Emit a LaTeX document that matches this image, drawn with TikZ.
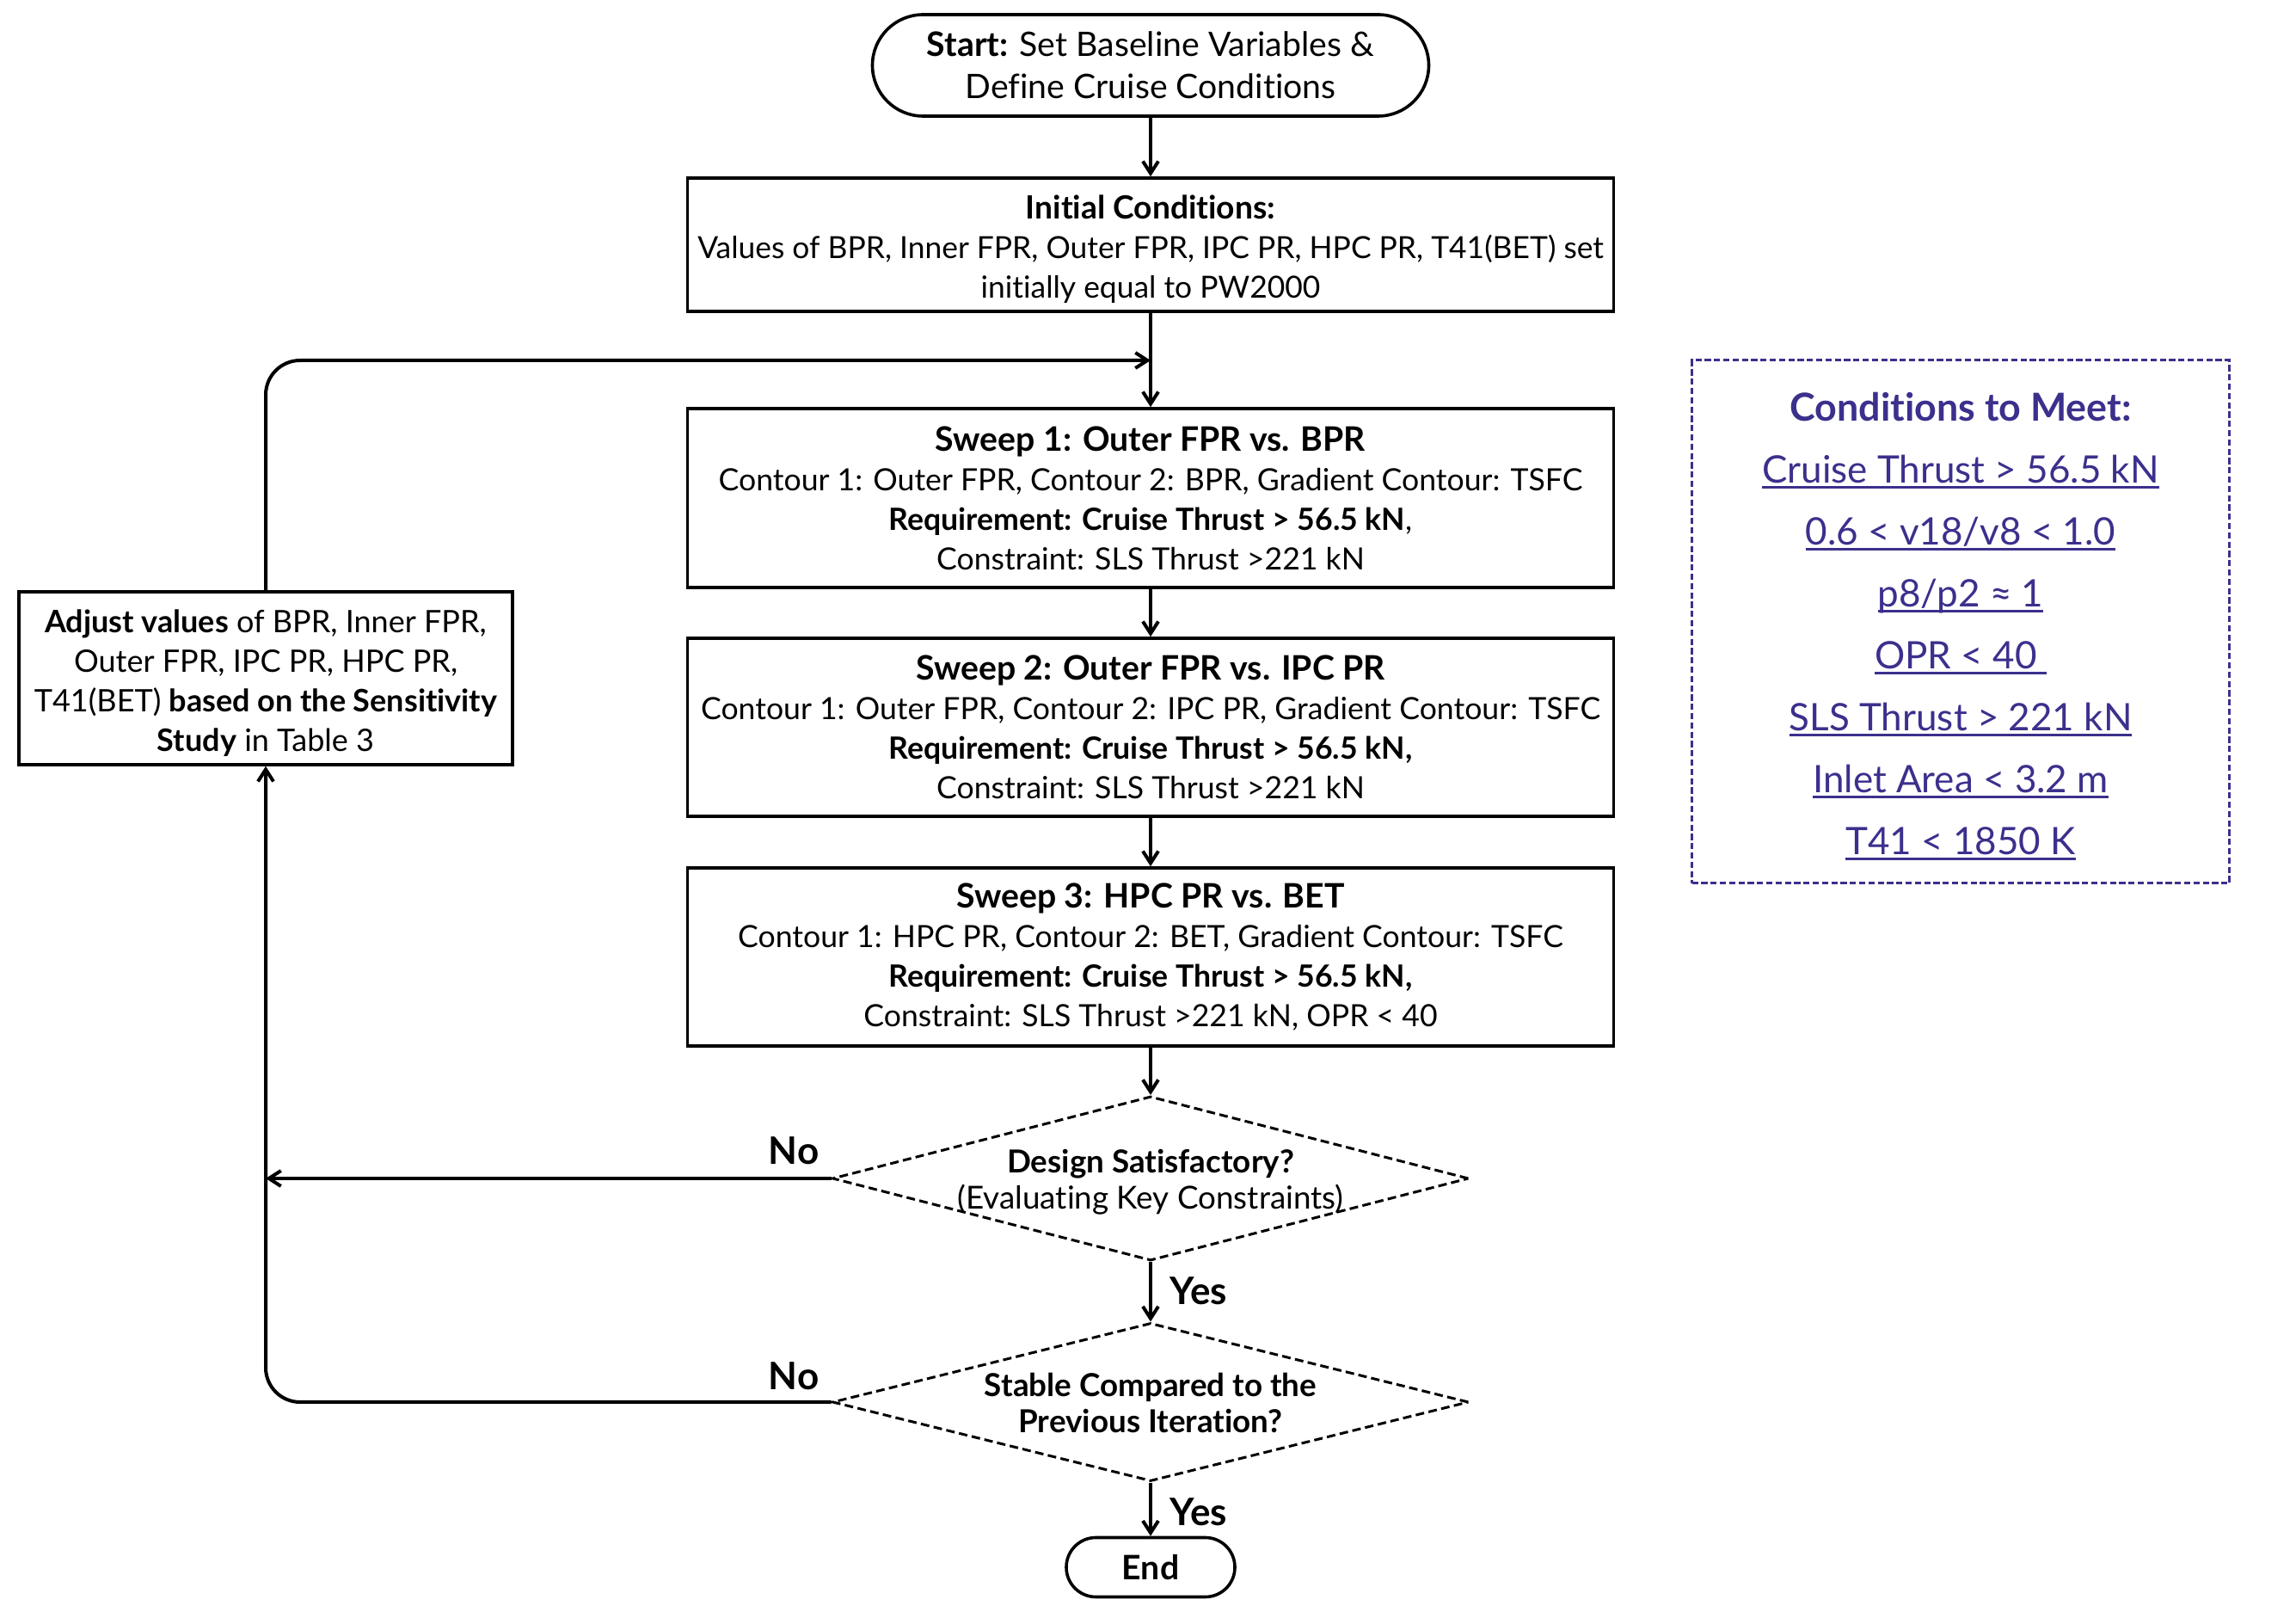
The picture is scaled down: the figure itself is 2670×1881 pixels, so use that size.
\documentclass[tikz,border=0pt]{standalone}
\usepackage{fontspec}
\setmainfont{Lato}[Ligatures=NoCommon]
\usetikzlibrary{shapes.geometric,arrows.meta}
\definecolor{condpurple}{RGB}{59,48,140}
\newcommand{\ulc}[1]{\setbox0\hbox{#1}\rlap{\rule[-1.8pt]{\wd0}{0.85pt}}\box0}
\newcommand{\bodyfont}{\fontsize{8.9}{11.5}\selectfont}
\newcommand{\ttlfont}{\fontsize{9.8}{11.5}\selectfont\bfseries}
\begin{document}
\begin{tikzpicture}[x=0.25pt,y=-0.25pt,
  flowbox/.style={draw, line width=0.9pt, align=center, inner sep=0pt, font=\bodyfont},
  decision/.style={diamond, draw, line width=0.75pt, dash pattern=on 2.5pt off 1.3pt, inner sep=0pt},
  dectext/.style={align=center, inner sep=0pt, font=\fontsize{9.2}{10.5}\selectfont},
  arr/.style={-{Straight Barb[length=3.5pt,width=4.5pt]}, line width=1pt},
  lbl/.style={font=\fontsize{11}{13}\selectfont\bfseries, inner sep=0pt}]
\useasboundingbox (0,0) rectangle (2670,1881);

\node[flowbox, rounded corners=14.75pt, minimum width=161.75pt, minimum height=29.5pt,
  font=\fontsize{9.8}{12.25}\selectfont] (start) at (1338,76)
  {\textbf{Start:} Set Baseline Variables \&\\Define Cruise Conditions};

\node[flowbox, minimum width=269.25pt, minimum height=38.75pt,
  font=\fontsize{8.85}{11.5}\selectfont] (init) at (1338,284.5) {};
\node[align=center, inner sep=0pt, font=\fontsize{8.85}{11.5}\selectfont] (inittext) at (1338,290)
  {{\fontsize{9.3}{11.5}\selectfont\bfseries Initial Conditions:}\\Values of BPR, Inner FPR, Outer FPR, IPC PR, HPC PR, T41(BET) set\\initially equal to PW2000};

\node[flowbox, minimum width=269.25pt, minimum height=52pt] (s1) at (1338,579)
  {{\ttlfont Sweep 1: Outer FPR vs. BPR}\\Contour 1: Outer FPR, Contour 2: BPR, Gradient Contour: TSFC\\\textbf{Requirement: Cruise Thrust > 56.5 kN},\\Constraint: SLS Thrust >221 kN};

\node[flowbox, minimum width=269.25pt, minimum height=51.75pt] (s2) at (1338,845.5)
  {{\ttlfont Sweep 2: Outer FPR vs. IPC PR}\\Contour 1: Outer FPR, Contour 2: IPC PR, Gradient Contour: TSFC\\\textbf{Requirement: Cruise Thrust > 56.5 kN,}\\Constraint: SLS Thrust >221 kN};

\node[flowbox, minimum width=269.25pt, minimum height=51.75pt] (s3) at (1338,1112.5)
  {{\ttlfont Sweep 3: HPC PR vs. BET}\\Contour 1: HPC PR, Contour 2: BET, Gradient Contour: TSFC\\\textbf{Requirement: Cruise Thrust > 56.5 kN,}\\Constraint: SLS Thrust >221 kN, OPR < 40};

\node[decision, minimum width=185pt, minimum height=47.75pt] (d1) at (1338,1370) {};
\node[dectext] (d1t) at (1338,1374) {\textbf{Design Satisfactory?}\\(Evaluating Key Constraints)};

\node[decision, minimum width=185pt, minimum height=46pt] (d2) at (1338,1630) {};
\node[dectext] (d2t) at (1338,1631) {\textbf{Stable Compared to the}\\\textbf{Previous Iteration?}};

\node[flowbox, rounded corners=8.6pt, minimum width=49pt, minimum height=17.25pt,
  font=\fontsize{9.8}{10}\selectfont\bfseries] (end) at (1338,1822) {End};

\node[flowbox, minimum width=143.5pt, minimum height=50.25pt] (adj) at (309,788.5) {};
\node[align=center, inner sep=0pt, font=\fontsize{9}{11.5}\selectfont] (adjtext) at (309,794)
  {\textbf{Adjust values} of BPR, Inner FPR,\\Outer FPR, IPC PR, HPC PR,\\T41(BET) \textbf{based on the Sensitivity}\\\textbf{Study} in Table 3};

\node[draw=condpurple, line width=0.75pt, dash pattern=on 1.8pt off 0.9pt,
  minimum width=156.25pt, minimum height=152pt, inner sep=0pt] (conds) at (2280,723) {};
\node[align=center, inner sep=0pt, text=condpurple, font=\fontsize{11}{18}\selectfont] (condtext) at (2280,728)
  {{\fontsize{11.2}{18}\selectfont\bfseries Conditions to Meet:}\\
   \ulc{Cruise Thrust > 56.5 kN}\\
   \ulc{0.6 < v18/v8 < 1.0}\\
   \ulc{p8/p2 ≈ 1}\\
   \ulc{OPR < 40 }\\
   \ulc{SLS Thrust > 221 kN}\\
   \ulc{Inlet Area < 3.2 m}\\
   \ulc{T41 < 1850 K}};

\coordinate (loopin) at (1338,419);
\coordinate (no1end) at (309,1370);

\draw[arr] (start.south) -- (init.north);
\draw[arr] (init.south) -- (s1.north);
\draw[arr, rounded corners=10pt] (adj.north) |- (loopin);
\draw[arr] (s1.south) -- (s2.north);
\draw[arr] (s2.south) -- (s3.north);
\draw[arr] (s3.south) -- (d1.north);
\draw[arr] (d1.south) -- (d2.north);
\draw[arr] (d2.south) -- (end.north);
\draw[arr] (d1.west) -- (no1end);
\draw[arr, rounded corners=10pt] (d2.west) -| (adj.south);

\node[lbl] (no1) at (923,1338) {No};
\node[lbl] (no2) at (923,1600) {No};
\node[lbl] (yes1) at (1394,1501) {Yes};
\node[lbl] (yes2) at (1394,1758) {Yes};
\end{tikzpicture}
\end{document}
